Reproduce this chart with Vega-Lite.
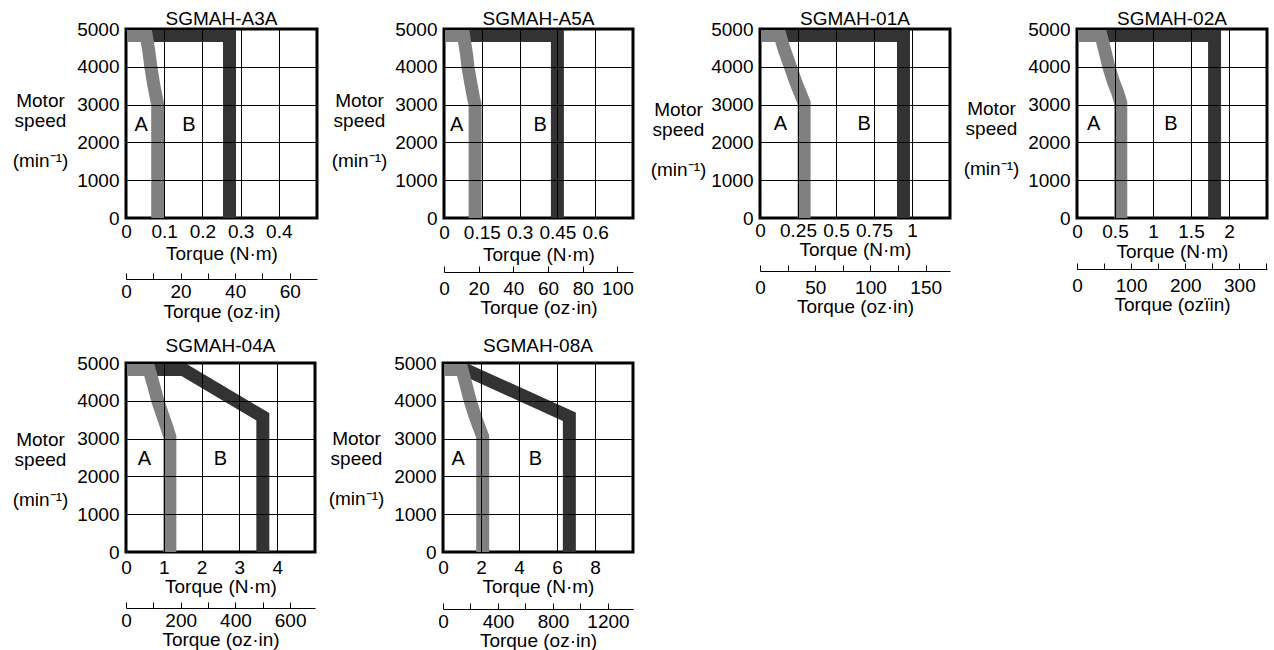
{
"$schema": "https://vega.github.io/schema/vega-lite/v6.json",
"padding": {"left": 10, "top": 8, "right": 2, "bottom": 0},
"autosize": {"type": "pad"},
"bounds": "flush",
"spacing": 334,
"datasets": {
"curves": [
{"panel":"A3A","series":"A","i":0,"t":0,"rpm":4830},{"panel":"A3A","series":"A","i":1,"t":0.053,"rpm":4830},{"panel":"A3A","series":"A","i":2,"t":0.06,"rpm":4400},{"panel":"A3A","series":"A","i":3,"t":0.065,"rpm":4000},{"panel":"A3A","series":"A","i":4,"t":0.073,"rpm":3500},{"panel":"A3A","series":"A","i":5,"t":0.08,"rpm":3150},{"panel":"A3A","series":"A","i":6,"t":0.083,"rpm":3000},{"panel":"A3A","series":"A","i":7,"t":0.083,"rpm":0},
{"panel":"A3A","series":"B","i":0,"t":0.03,"rpm":4830},{"panel":"A3A","series":"B","i":1,"t":0.271,"rpm":4830},{"panel":"A3A","series":"B","i":2,"t":0.271,"rpm":0},
{"panel":"A5A","series":"A","i":0,"t":0,"rpm":4830},{"panel":"A5A","series":"A","i":1,"t":0.078,"rpm":4830},{"panel":"A5A","series":"A","i":2,"t":0.09,"rpm":4300},{"panel":"A5A","series":"A","i":3,"t":0.095,"rpm":4000},{"panel":"A5A","series":"A","i":4,"t":0.108,"rpm":3500},{"panel":"A5A","series":"A","i":5,"t":0.118,"rpm":3150},{"panel":"A5A","series":"A","i":6,"t":0.1235,"rpm":3000},{"panel":"A5A","series":"A","i":7,"t":0.1235,"rpm":0},
{"panel":"A5A","series":"B","i":0,"t":0.05,"rpm":4830},{"panel":"A5A","series":"B","i":1,"t":0.45,"rpm":4830},{"panel":"A5A","series":"B","i":2,"t":0.45,"rpm":0},
{"panel":"01A","series":"A","i":0,"t":0,"rpm":4830},{"panel":"01A","series":"A","i":1,"t":0.132,"rpm":4830},{"panel":"01A","series":"A","i":2,"t":0.16,"rpm":4450},{"panel":"01A","series":"A","i":3,"t":0.2,"rpm":4000},{"panel":"01A","series":"A","i":4,"t":0.235,"rpm":3600},{"panel":"01A","series":"A","i":5,"t":0.263,"rpm":3320},{"panel":"01A","series":"A","i":6,"t":0.29,"rpm":3050},{"panel":"01A","series":"A","i":7,"t":0.29,"rpm":0},
{"panel":"01A","series":"B","i":0,"t":0.1,"rpm":4830},{"panel":"01A","series":"B","i":1,"t":0.944,"rpm":4830},{"panel":"01A","series":"B","i":2,"t":0.944,"rpm":0},
{"panel":"02A","series":"A","i":0,"t":0,"rpm":4830},{"panel":"02A","series":"A","i":1,"t":0.316,"rpm":4830},{"panel":"02A","series":"A","i":2,"t":0.37,"rpm":4400},{"panel":"02A","series":"A","i":3,"t":0.418,"rpm":4000},{"panel":"02A","series":"A","i":4,"t":0.48,"rpm":3600},{"panel":"02A","series":"A","i":5,"t":0.533,"rpm":3330},{"panel":"02A","series":"A","i":6,"t":0.576,"rpm":3050},{"panel":"02A","series":"A","i":7,"t":0.576,"rpm":0},
{"panel":"02A","series":"B","i":0,"t":0.25,"rpm":4830},{"panel":"02A","series":"B","i":1,"t":1.81,"rpm":4830},{"panel":"02A","series":"B","i":2,"t":1.81,"rpm":0},
{"panel":"04A","series":"A","i":0,"t":0,"rpm":4830},{"panel":"04A","series":"A","i":1,"t":0.61,"rpm":4830},{"panel":"04A","series":"A","i":2,"t":0.72,"rpm":4450},{"panel":"04A","series":"A","i":3,"t":0.84,"rpm":4000},{"panel":"04A","series":"A","i":4,"t":0.96,"rpm":3650},{"panel":"04A","series":"A","i":5,"t":1.07,"rpm":3330},{"panel":"04A","series":"A","i":6,"t":1.16,"rpm":3050},{"panel":"04A","series":"A","i":7,"t":1.16,"rpm":0},
{"panel":"04A","series":"B","i":0,"t":0.5,"rpm":4830},{"panel":"04A","series":"B","i":1,"t":1.51,"rpm":4830},{"panel":"04A","series":"B","i":2,"t":3.62,"rpm":3577},{"panel":"04A","series":"B","i":3,"t":3.62,"rpm":0},
{"panel":"08A","series":"A","i":0,"t":0,"rpm":4830},{"panel":"08A","series":"A","i":1,"t":1.0,"rpm":4830},{"panel":"08A","series":"A","i":2,"t":1.2,"rpm":4450},{"panel":"08A","series":"A","i":3,"t":1.43,"rpm":4000},{"panel":"08A","series":"A","i":4,"t":1.65,"rpm":3650},{"panel":"08A","series":"A","i":5,"t":1.88,"rpm":3330},{"panel":"08A","series":"A","i":6,"t":2.09,"rpm":3050},{"panel":"08A","series":"A","i":7,"t":2.09,"rpm":0},
{"panel":"08A","series":"B","i":0,"t":0.8,"rpm":4830},{"panel":"08A","series":"B","i":1,"t":1.15,"rpm":4830},{"panel":"08A","series":"B","i":2,"t":6.65,"rpm":3577},{"panel":"08A","series":"B","i":3,"t":6.65,"rpm":0}
],
"labels": [
{"panel":"A3A","label":"A","t":0.04,"rpm":2470},{"panel":"A3A","label":"B","t":0.165,"rpm":2470},
{"panel":"A5A","label":"A","t":0.05,"rpm":2470},{"panel":"A5A","label":"B","t":0.382,"rpm":2470},
{"panel":"01A","label":"A","t":0.134,"rpm":2480},{"panel":"01A","label":"B","t":0.686,"rpm":2480},
{"panel":"02A","label":"A","t":0.22,"rpm":2480},{"panel":"02A","label":"B","t":1.237,"rpm":2480},
{"panel":"04A","label":"A","t":0.49,"rpm":2450},{"panel":"04A","label":"B","t":2.5,"rpm":2450},
{"panel":"08A","label":"A","t":0.8,"rpm":2450},{"panel":"08A","label":"B","t":4.86,"rpm":2450}
]
},
"vconcat": [
{"hconcat": [
{
"title": {"text": "SGMAH-A3A", "frame": "group", "anchor": "middle", "dy": 13},
"width": 191, "height": 189,
"layer": [
{"encoding": {
"x": {"field": "t", "type": "quantitative", "scale": {"domain": [0, 0.5], "nice": false, "zero": false}, "axis": {"values": [0, 0.1, 0.2, 0.3, 0.4], "format": ".2~f", "title": "Torque (N·m)", "grid": true, "ticks": false, "domain": false, "labelPadding": 4, "titlePadding": 3, "zindex": 1}},
"y": {"field": "rpm", "type": "quantitative", "scale": {"domain": [0, 5000], "nice": false}, "axis": {"values": [0, 1000, 2000, 3000, 4000, 5000], "format": "d", "grid": true, "ticks": false, "domain": false, "labelPadding": 7, "zindex": 1, "title": ["Motor", "speed", "\u2800", "(min⁻¹)"], "titleAngle": 0, "titleAlign": "center", "titleBaseline": "alphabetic", "titleLineHeight": 20, "titleX": -86, "titleY": 77}}
},
"layer": [
{"data": {"name": "curves"}, "transform": [{"filter": "datum.panel == 'A3A' && datum.series == 'B'"}], "mark": {"type": "line", "color": "#333333", "strokeWidth": 13, "strokeCap": "butt", "strokeJoin": "miter", "clip": true}, "encoding": {"order": {"field": "i", "type": "quantitative"}}},
{"data": {"name": "curves"}, "transform": [{"filter": "datum.panel == 'A3A' && datum.series == 'A'"}], "mark": {"type": "line", "color": "#808080", "strokeWidth": 13, "strokeCap": "butt", "strokeJoin": "miter", "clip": true}, "encoding": {"order": {"field": "i", "type": "quantitative"}}},
{"data": {"name": "labels"}, "transform": [{"filter": "datum.panel == 'A3A'"}], "mark": {"type": "text", "fontSize": 20, "color": "#000"}, "encoding": {"text": {"field": "label"}}}
]},
{"data": {"values": [{"oz": 0}]}, "mark": {"type": "point", "opacity": 0},
"encoding": {"x": {"field": "oz", "type": "quantitative", "scale": {"domain": [0, 70], "nice": false}, "axis": {"orient": "bottom", "offset": 61, "values": [0, 10, 20, 30, 40, 50, 60], "format": "d", "labelExpr": "datum.value % 20 == 0 ? datum.label : ''", "title": "Torque (oz·in)", "grid": false, "ticks": true, "tickSize": -6, "domain": true, "labelPadding": 9, "titlePadding": 1}}}}
],
"resolve": {"scale": {"x": "independent"}}
},
{
"title": {"text": "SGMAH-A5A", "frame": "group", "anchor": "middle", "dy": 13},
"width": 189, "height": 189,
"layer": [
{"encoding": {
"x": {"field": "t", "type": "quantitative", "scale": {"domain": [0, 0.75], "nice": false, "zero": false}, "axis": {"values": [0, 0.15, 0.3, 0.45, 0.6], "format": ".2~f", "title": "Torque (N·m)", "grid": true, "ticks": false, "domain": false, "labelPadding": 5, "titlePadding": 3, "zindex": 1}},
"y": {"field": "rpm", "type": "quantitative", "scale": {"domain": [0, 5000], "nice": false}, "axis": {"values": [0, 1000, 2000, 3000, 4000, 5000], "format": "d", "grid": true, "ticks": false, "domain": false, "labelPadding": 7, "zindex": 1, "title": ["Motor", "speed", "\u2800", "(min⁻¹)"], "titleAngle": 0, "titleAlign": "center", "titleBaseline": "alphabetic", "titleLineHeight": 20, "titleX": -85, "titleY": 77}}
},
"layer": [
{"data": {"name": "curves"}, "transform": [{"filter": "datum.panel == 'A5A' && datum.series == 'B'"}], "mark": {"type": "line", "color": "#333333", "strokeWidth": 13, "strokeCap": "butt", "strokeJoin": "miter", "clip": true}, "encoding": {"order": {"field": "i", "type": "quantitative"}}},
{"data": {"name": "curves"}, "transform": [{"filter": "datum.panel == 'A5A' && datum.series == 'A'"}], "mark": {"type": "line", "color": "#808080", "strokeWidth": 13, "strokeCap": "butt", "strokeJoin": "miter", "clip": true}, "encoding": {"order": {"field": "i", "type": "quantitative"}}},
{"data": {"name": "labels"}, "transform": [{"filter": "datum.panel == 'A5A'"}], "mark": {"type": "text", "fontSize": 20, "color": "#000"}, "encoding": {"text": {"field": "label"}}}
]},
{"data": {"values": [{"oz": 0}]}, "mark": {"type": "point", "opacity": 0},
"encoding": {"x": {"field": "oz", "type": "quantitative", "scale": {"domain": [0, 109], "nice": false}, "axis": {"orient": "bottom", "offset": 54, "values": [0, 20, 40, 60, 80, 100], "format": "d", "title": "Torque (oz·in)", "grid": false, "ticks": true, "tickSize": -6, "domain": true, "labelPadding": 13, "titlePadding": 0}}}}
],
"resolve": {"scale": {"x": "independent"}}
},
{
"title": {"text": "SGMAH-01A", "frame": "group", "anchor": "middle", "dy": 13},
"width": 190, "height": 189,
"layer": [
{"encoding": {
"x": {"field": "t", "type": "quantitative", "scale": {"domain": [0, 1.25], "nice": false, "zero": false}, "axis": {"values": [0, 0.25, 0.5, 0.75, 1], "format": ".2~f", "title": "Torque (N·m)", "grid": true, "ticks": false, "domain": false, "labelPadding": 3, "titlePadding": 0, "zindex": 1}},
"y": {"field": "rpm", "type": "quantitative", "scale": {"domain": [0, 5000], "nice": false}, "axis": {"values": [0, 1000, 2000, 3000, 4000, 5000], "format": "d", "grid": true, "ticks": false, "domain": false, "labelPadding": 7, "zindex": 1, "title": ["Motor", "speed", "\u2800", "(min⁻¹)"], "titleAngle": 0, "titleAlign": "center", "titleBaseline": "alphabetic", "titleLineHeight": 20, "titleX": -82, "titleY": 86}}
},
"layer": [
{"data": {"name": "curves"}, "transform": [{"filter": "datum.panel == '01A' && datum.series == 'B'"}], "mark": {"type": "line", "color": "#333333", "strokeWidth": 13, "strokeCap": "butt", "strokeJoin": "miter", "clip": true}, "encoding": {"order": {"field": "i", "type": "quantitative"}}},
{"data": {"name": "curves"}, "transform": [{"filter": "datum.panel == '01A' && datum.series == 'A'"}], "mark": {"type": "line", "color": "#808080", "strokeWidth": 13, "strokeCap": "butt", "strokeJoin": "miter", "clip": true}, "encoding": {"order": {"field": "i", "type": "quantitative"}}},
{"data": {"name": "labels"}, "transform": [{"filter": "datum.panel == '01A'"}], "mark": {"type": "text", "fontSize": 20, "color": "#000"}, "encoding": {"text": {"field": "label"}}}
]},
{"data": {"values": [{"oz": 0}]}, "mark": {"type": "point", "opacity": 0},
"encoding": {"x": {"field": "oz", "type": "quantitative", "scale": {"domain": [0, 172], "nice": false}, "axis": {"orient": "bottom", "offset": 53, "values": [0, 25, 50, 75, 100, 125, 150], "format": "d", "labelExpr": "datum.value % 50 == 0 ? datum.label : ''", "title": "Torque (oz·in)", "grid": false, "ticks": true, "tickSize": -6, "domain": true, "labelPadding": 13, "titlePadding": 0}}}}
],
"resolve": {"scale": {"x": "independent"}}
},
{
"title": {"text": "SGMAH-02A", "frame": "group", "anchor": "middle", "dy": 13},
"width": 190, "height": 189,
"layer": [
{"encoding": {
"x": {"field": "t", "type": "quantitative", "scale": {"domain": [0, 2.5], "nice": false, "zero": false}, "axis": {"values": [0, 0.5, 1, 1.5, 2], "format": ".2~f", "title": "Torque (N·m)", "grid": true, "ticks": false, "domain": false, "labelPadding": 4, "titlePadding": 1, "zindex": 1}},
"y": {"field": "rpm", "type": "quantitative", "scale": {"domain": [0, 5000], "nice": false}, "axis": {"values": [0, 1000, 2000, 3000, 4000, 5000], "format": "d", "grid": true, "ticks": false, "domain": false, "labelPadding": 7, "zindex": 1, "title": ["Motor", "speed", "\u2800", "(min⁻¹)"], "titleAngle": 0, "titleAlign": "center", "titleBaseline": "alphabetic", "titleLineHeight": 20, "titleX": -86, "titleY": 85}}
},
"layer": [
{"data": {"name": "curves"}, "transform": [{"filter": "datum.panel == '02A' && datum.series == 'B'"}], "mark": {"type": "line", "color": "#333333", "strokeWidth": 13, "strokeCap": "butt", "strokeJoin": "miter", "clip": true}, "encoding": {"order": {"field": "i", "type": "quantitative"}}},
{"data": {"name": "curves"}, "transform": [{"filter": "datum.panel == '02A' && datum.series == 'A'"}], "mark": {"type": "line", "color": "#808080", "strokeWidth": 13, "strokeCap": "butt", "strokeJoin": "miter", "clip": true}, "encoding": {"order": {"field": "i", "type": "quantitative"}}},
{"data": {"name": "labels"}, "transform": [{"filter": "datum.panel == '02A'"}], "mark": {"type": "text", "fontSize": 20, "color": "#000"}, "encoding": {"text": {"field": "label"}}}
]},
{"data": {"values": [{"oz": 0}]}, "mark": {"type": "point", "opacity": 0},
"encoding": {"x": {"field": "oz", "type": "quantitative", "scale": {"domain": [0, 351], "nice": false}, "axis": {"orient": "bottom", "offset": 51, "values": [0, 50, 100, 150, 200, 250, 300, 350], "format": "d", "labelExpr": "datum.value % 100 == 0 ? datum.label : ''", "title": "Torque (ozïin)", "grid": false, "ticks": true, "tickSize": -6, "domain": true, "labelPadding": 13, "titlePadding": 0}}}}
],
"resolve": {"scale": {"x": "independent"}}
}
], "spacing": 127, "bounds": "flush"},
{"hconcat": [
{
"title": {"text": "SGMAH-04A", "frame": "group", "anchor": "middle", "dy": 6},
"width": 189, "height": 189,
"layer": [
{"encoding": {
"x": {"field": "t", "type": "quantitative", "scale": {"domain": [0, 5], "nice": false, "zero": false}, "axis": {"values": [0, 1, 2, 3, 4], "format": ".2~f", "title": "Torque (N·m)", "grid": true, "ticks": false, "domain": false, "labelPadding": 6, "titlePadding": 0, "zindex": 1}},
"y": {"field": "rpm", "type": "quantitative", "scale": {"domain": [0, 5000], "nice": false}, "axis": {"values": [0, 1000, 2000, 3000, 4000, 5000], "format": "d", "grid": true, "ticks": false, "domain": false, "labelPadding": 7, "zindex": 1, "title": ["Motor", "speed", "\u2800", "(min⁻¹)"], "titleAngle": 0, "titleAlign": "center", "titleBaseline": "alphabetic", "titleLineHeight": 20, "titleX": -86, "titleY": 82}}
},
"layer": [
{"data": {"name": "curves"}, "transform": [{"filter": "datum.panel == '04A' && datum.series == 'B'"}], "mark": {"type": "line", "color": "#333333", "strokeWidth": 13, "strokeCap": "butt", "strokeJoin": "miter", "clip": true}, "encoding": {"order": {"field": "i", "type": "quantitative"}}},
{"data": {"name": "curves"}, "transform": [{"filter": "datum.panel == '04A' && datum.series == 'A'"}], "mark": {"type": "line", "color": "#808080", "strokeWidth": 13, "strokeCap": "butt", "strokeJoin": "miter", "clip": true}, "encoding": {"order": {"field": "i", "type": "quantitative"}}},
{"data": {"name": "labels"}, "transform": [{"filter": "datum.panel == '04A'"}], "mark": {"type": "text", "fontSize": 20, "color": "#000"}, "encoding": {"text": {"field": "label"}}}
]},
{"data": {"values": [{"oz": 0}]}, "mark": {"type": "point", "opacity": 0},
"encoding": {"x": {"field": "oz", "type": "quantitative", "scale": {"domain": [0, 691], "nice": false}, "axis": {"orient": "bottom", "offset": 56, "values": [0, 100, 200, 300, 400, 500, 600], "format": "d", "labelExpr": "datum.value % 200 == 0 ? datum.label : ''", "title": "Torque (oz·in)", "grid": false, "ticks": true, "tickSize": -6, "domain": true, "labelPadding": 9, "titlePadding": 0}}}}
],
"resolve": {"scale": {"x": "independent"}}
},
{
"title": {"text": "SGMAH-08A", "frame": "group", "anchor": "middle", "dy": 6},
"width": 190, "height": 189,
"layer": [
{"encoding": {
"x": {"field": "t", "type": "quantitative", "scale": {"domain": [0, 10], "nice": false, "zero": false}, "axis": {"values": [0, 2, 4, 6, 8], "format": ".2~f", "title": "Torque (N·m)", "grid": true, "ticks": false, "domain": false, "labelPadding": 6, "titlePadding": 0, "zindex": 1}},
"y": {"field": "rpm", "type": "quantitative", "scale": {"domain": [0, 5000], "nice": false}, "axis": {"values": [0, 1000, 2000, 3000, 4000, 5000], "format": "d", "grid": true, "ticks": false, "domain": false, "labelPadding": 7, "zindex": 1, "title": ["Motor", "speed", "\u2800", "(min⁻¹)"], "titleAngle": 0, "titleAlign": "center", "titleBaseline": "alphabetic", "titleLineHeight": 20, "titleX": -87, "titleY": 81}}
},
"layer": [
{"data": {"name": "curves"}, "transform": [{"filter": "datum.panel == '08A' && datum.series == 'B'"}], "mark": {"type": "line", "color": "#333333", "strokeWidth": 13, "strokeCap": "butt", "strokeJoin": "miter", "clip": true}, "encoding": {"order": {"field": "i", "type": "quantitative"}}},
{"data": {"name": "curves"}, "transform": [{"filter": "datum.panel == '08A' && datum.series == 'A'"}], "mark": {"type": "line", "color": "#808080", "strokeWidth": 13, "strokeCap": "butt", "strokeJoin": "miter", "clip": true}, "encoding": {"order": {"field": "i", "type": "quantitative"}}},
{"data": {"name": "labels"}, "transform": [{"filter": "datum.panel == '08A'"}], "mark": {"type": "text", "fontSize": 20, "color": "#000"}, "encoding": {"text": {"field": "label"}}}
]},
{"data": {"values": [{"oz": 0}]}, "mark": {"type": "point", "opacity": 0},
"encoding": {"x": {"field": "oz", "type": "quantitative", "scale": {"domain": [0, 1382], "nice": false}, "axis": {"orient": "bottom", "offset": 57, "values": [0, 200, 400, 600, 800, 1000, 1200], "format": "d", "labelExpr": "datum.value % 400 == 0 ? datum.label : ''", "title": "Torque (oz·in)", "grid": false, "ticks": true, "tickSize": -6, "domain": true, "labelPadding": 9, "titlePadding": 0}}}}
],
"resolve": {"scale": {"x": "independent"}}
}
], "spacing": 128, "bounds": "flush"}
],
"config": {
"font": "Liberation Sans",
"view": {"stroke": "#000", "strokeWidth": 3},
"axis": {"labelFont": "Liberation Sans", "labelFontSize": 19, "labelColor": "#000", "labelFlush": false, "labelOverlap": false, "titleFont": "Liberation Sans", "titleFontSize": 19, "titleFontWeight": "normal", "titleColor": "#000", "gridColor": "#000", "gridOpacity": 1, "gridWidth": 1, "domainColor": "#000", "domainWidth": 1, "tickColor": "#000", "tickWidth": 1},
"title": {"font": "Liberation Sans", "fontSize": 19, "fontWeight": "normal", "color": "#000", "offset": 4},
"text": {"font": "Liberation Sans"}
}
}
